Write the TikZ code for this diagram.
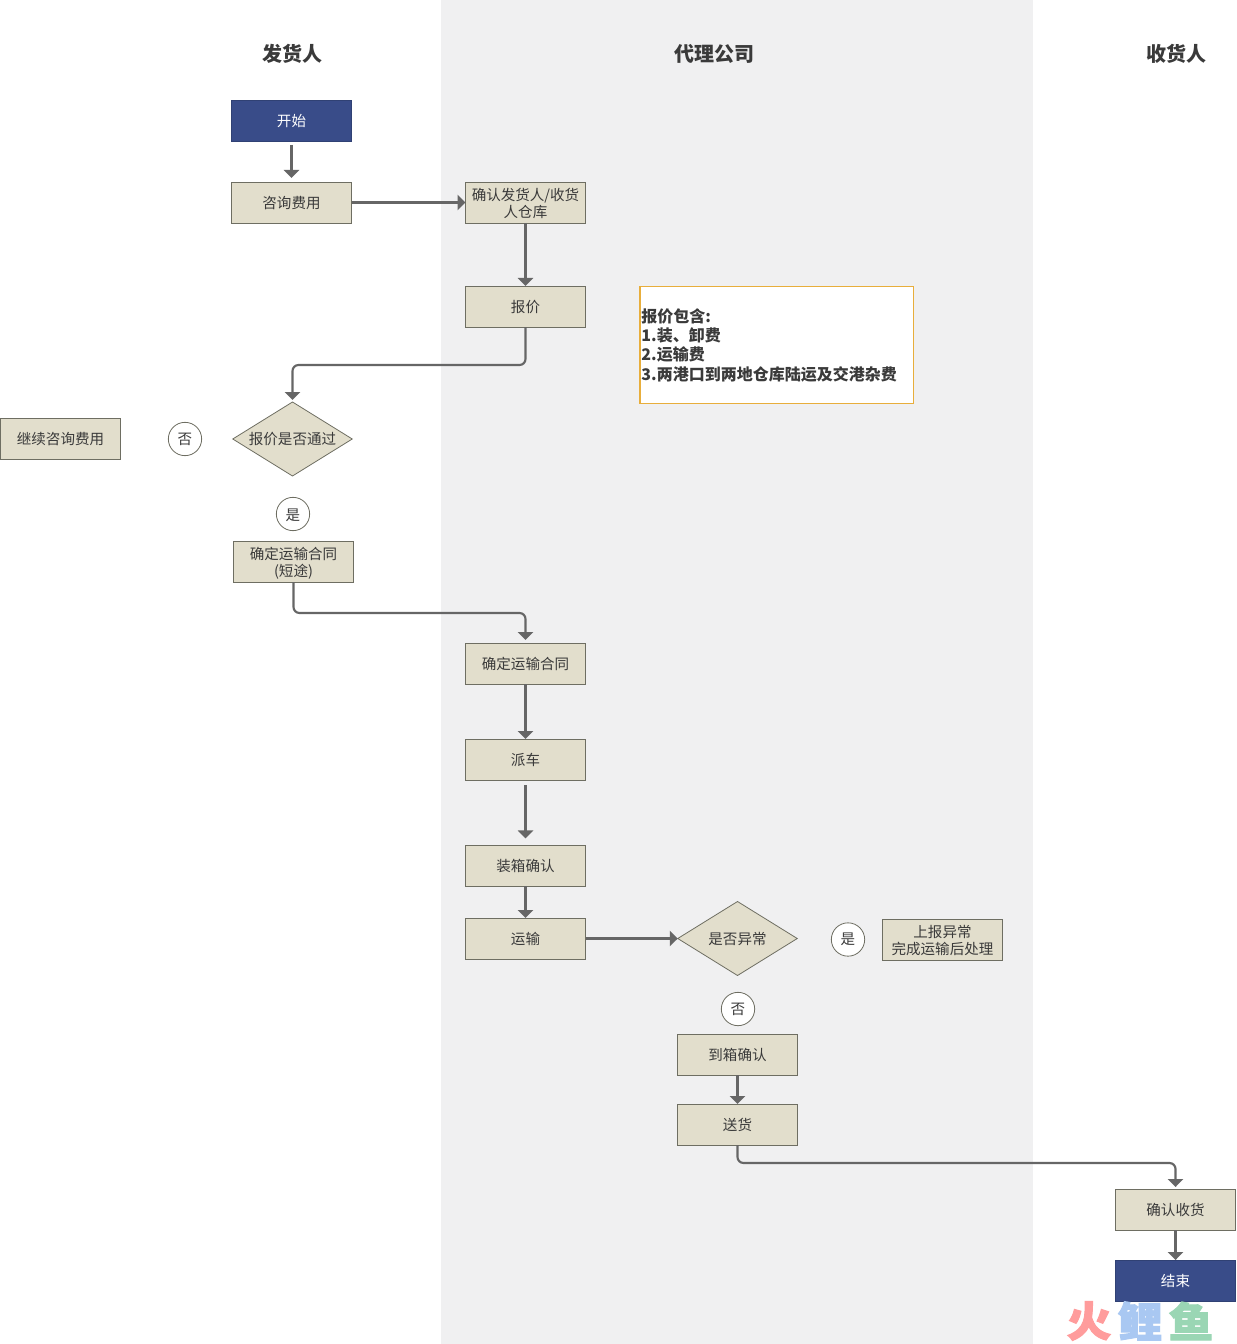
\documentclass[tikz,border=0pt]{standalone}
\usepackage{fontspec}
\setmainfont{Noto Sans CJK SC}
\newfontfamily\wmfont[FakeBold=2.5,FakeStretch=1.08]{Noto Sans CJK SC Black}
\usetikzlibrary{shapes.geometric,arrows.meta}
\definecolor{bandgray}{HTML}{F0F0F1}
\definecolor{boxfill}{HTML}{E2DECC}
\definecolor{boxline}{HTML}{6E6E62}
\definecolor{navy}{HTML}{394C89}
\definecolor{linegray}{HTML}{666666}
\definecolor{textgray}{HTML}{3A3A3A}
\definecolor{noteline}{HTML}{E8AE3C}
\definecolor{wmred}{HTML}{FF9C9C}
\definecolor{wmblue}{HTML}{A9C8F2}
\definecolor{wmgreen}{HTML}{9AD6B4}
\newcommand{\lowone}[2][0.75pt]{\raisebox{-#1}[\height][\depth]{#2}}
\newcommand{\lowtwo}[3][0.75pt]{\raisebox{-#1}[\height][\depth]{\vbox{\halign{\hfil##\hfil\cr #2\cr #3\cr}}}}
\tikzset{
  basefont/.style={font=\fontsize{10.9pt}{12.75pt}\selectfont, text=textgray, align=center},
  procbox/.style={basefont, draw=boxline, fill=boxfill, line width=0.6pt, minimum width=90pt, minimum height=30.75pt, inner sep=0pt, outer sep=0pt},
  termbox/.style={basefont, draw=navy!85!black, fill=navy, text=white, line width=0.6pt, minimum width=90pt, minimum height=30.75pt, inner sep=0pt, outer sep=0pt},
  decide/.style={basefont, shape=diamond, draw=boxline, fill=boxfill, line width=0.6pt, minimum width=89.6pt, minimum height=55.5pt, aspect=1.6, inner sep=0pt, outer sep=0pt},
  mark circle/.style={basefont, shape=circle, draw=boxline, fill=white, line width=0.6pt, minimum size=25pt, inner sep=0pt, outer sep=0pt},
  lane title/.style={font=\fontsize{15pt}{18pt}\selectfont\bfseries, text=textgray, inner sep=0pt},
  note box/.style={font=\fontsize{12pt}{14.5pt}\selectfont\bfseries, text=textgray, align=left, draw=noteline, fill=white, line width=1pt, minimum width=205pt, minimum height=87.25pt, text width=202.6pt, inner xsep=1.2pt, inner ysep=0pt, outer sep=0pt},
  flow/.style={draw=linegray, line width=1.6pt, -{Triangle[length=6pt,width=11.5pt]}, rounded corners=4.5pt},
  wm/.style={font=\fontsize{31pt}{31pt}\selectfont\wmfont, inner sep=0pt}
}
\begin{document}
\begin{tikzpicture}[x=0.75pt,y=-0.75pt]
\useasboundingbox (0,0) rectangle (1236,1344);
\fill[white] (0,0) rectangle (1236,1344);
\fill[bandgray] (441,0) rectangle (1033,1344);
\node[lane title] (t1) at (292.5,54) {发货人};
\node[lane title] (t2) at (714,54) {代理公司};
\node[lane title] (t3) at (1176,54) {收货人};
\node[termbox] (start) at (291.5,120.5) {\lowone{开始}};
\node[procbox] (ask) at (291.5,202.5) {\lowone{咨询费用}};
\node[procbox] (confirm) at (525.5,202.5) {\lowtwo{确认发货人/收货}{人仓库}};
\node[procbox] (quote) at (525.5,306.5) {\lowone{报价}};
\node[note box] (note) at (776.5,345) {报价包含:\\1.装、卸费\\2.运输费\\3.两港口到两地仓库陆运及交港杂费};
\node[decide] (pass) at (292.5,439) {报价是否通过};
\node[procbox] (more) at (60.5,438.5) {\lowone{继续咨询费用}};
\node[mark circle] (no1) at (185,439) {否};
\node[mark circle] (yes1) at (293,514) {\lowone{是}};
\node[procbox] (short) at (293.5,561.5) {\lowtwo[1.5pt]{确定运输合同}{(短途)}};
\node[procbox] (contract) at (525.5,663.5) {确定运输合同};
\node[procbox] (truck) at (525.5,759.5) {派车};
\node[procbox] (load) at (525.5,865.5) {装箱确认};
\node[procbox] (ship) at (525.5,938.5) {运输};
\node[decide] (abn) at (737.5,938.5) {是否异常};
\node[mark circle] (yes2) at (848,939.5) {是};
\node[procbox] (report) at (942.5,939.5) {\lowtwo{上报异常}{完成运输后处理}};
\node[mark circle] (no2) at (738,1009) {否};
\node[procbox] (arrive) at (737.5,1054.5) {到箱确认};
\node[procbox] (deliver) at (737.5,1124.5) {送货};
\node[procbox] (receive) at (1175.5,1209.5) {确认收货};
\node[termbox] (end) at (1175.5,1280.5) {结束};
\draw[flow,shorten <=3pt,shorten >=3pt] (start) -- (ask);
\draw[flow] (ask) -- (confirm);
\draw[flow] (confirm) -- (quote);
\draw[flow,shorten >=1.5pt] (quote.south) -- ++(0,38) -| (pass.north);
\draw[flow,shorten >=2.25pt] (short.south) -- ++(0,31) -| (contract.north);
\draw[flow] (contract) -- (truck);
\draw[flow,shorten <=3.75pt,shorten >=5pt] (truck) -- (load);
\draw[flow] (load) -- (ship);
\draw[flow] (ship.east) -- (abn.west);
\draw[flow] (arrive) -- (deliver);
\draw[flow,shorten >=1.5pt] (deliver.south) -- ++(0,18) -| (receive.north);
\draw[flow] (receive) -- (end);
\node[wm,text=wmred] (w1) at (1089,1321) {火};
\node[wm,text=wmblue] (w2) at (1140,1321) {鲤};
\node[wm,text=wmgreen] (w3) at (1191,1321) {鱼};
\end{tikzpicture}
\end{document}
